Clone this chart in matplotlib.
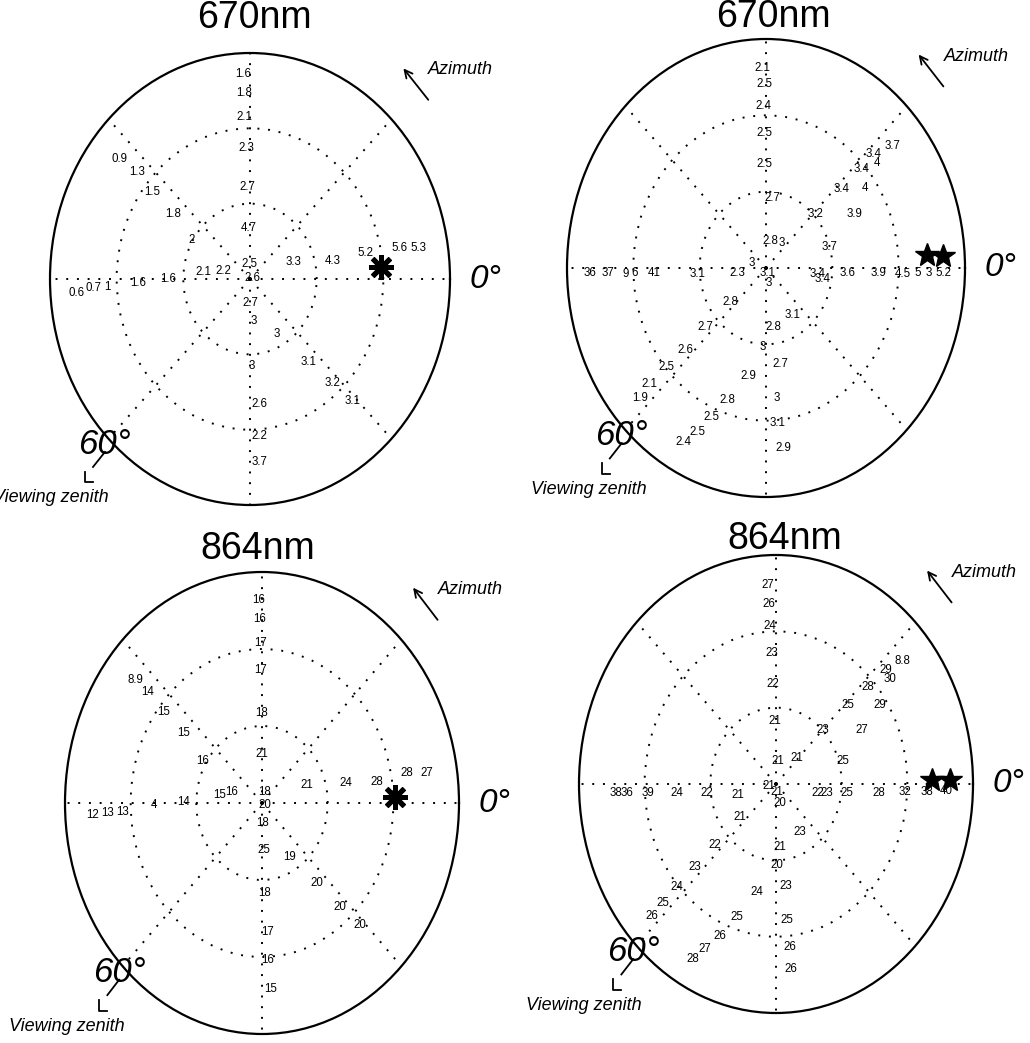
import numpy as np
import matplotlib
matplotlib.use("Agg")
import matplotlib.pyplot as plt

plt.rcParams['font.family'] = ['Liberation Sans', 'DejaVu Sans']

# -----------------------------
# Data: value labels at (azimuth deg, viewing zenith deg)
# -----------------------------
# 670nm, left panel
p1_val = ["1.6", "1.8", "2.1", "2.3", "2.7", "4.7", "2.5", "2.6",
          "2.7", "3", "3", "2.6", "2.2", "3.7",
          "2.1", "2.2", "1.6", "1.6", "1", "0.7", "0.6",
          "3.3", "4.3", "5.2", "5.6", "5.3",
          "0.9", "1.3", "1.5", "1.8", "2",
          "3", "3.1", "3.2", "3.1"]
p1_az = [92, 92, 92.4, 92, 92, 91, 94, 18,
         270, 275, 271, 275, 274, 273.5,
         172, 165.5, 180, 182, 183, 183, 184,
         19, 11, 11.3, 10.3, 9.2,
         140.7, 140, 141.8, 143.2, 149,
         299, 308.8, 312, 313.4]
p1_zen = [54.4, 49.4, 43.0, 34.8, 24.4, 13.5, 4.0, 0.9,
          6.4, 11.2, 23.1, 33.3, 41.8, 48.7,
          14.2, 8.4, 24.6, 33.6, 42.9, 47.1, 52.1,
          13.7, 25.4, 35.2, 45.7, 51.1,
          50.4, 44.2, 37.4, 28.9, 20.3,
          16.7, 28.2, 37.2, 44.6]

# 670nm, right panel
p2_val = ["2.1", "2.5", "2.4", "2.5", "2.5", "2.7", "2.8", "3", "3", "3.1", "3",
          "2.8", "3.1", "3", "2.7", "2.9", "3", "3.1", "2.9",
          "3.4", "3.4", "3.6", "3.9", "4.5", "5", "3", "5.2",
          "3.7", "3.2", "3.4", "3.4", "3.4", "3.7", "3.9", "4", "4",
          "2.3", "3.1", "41", "6", "9", "37", "36",
          "2.8", "2.7", "2.6", "2.5", "2.1", "1.9", "2.8", "2.5", "2.5", "2.4"]
p2_az = [91.3, 90.7, 91.2, 91, 91.3, 84.4, 80.5, 54.4, 161.6, 293, 283,
         277.7, 303, 267.5, 279.5, 259.2, 275.5, 275, 276.5,
         354, 350, 356.8, 357.6, 358, 358.2, 358.4, 358.5,
         15.6, 43.8, 42.2, 42, 42.8, 40.1, 27.9, 35.2, 39.5,
         189, 184, 182.4, 182, 182, 181.7, 181.5,
         219.5, 220.3, 221.5, 221, 221, 221.9, 251.6, 247.3, 244.2, 241.3]
p2_zen = [52.4, 48.2, 42.5, 35.4, 27.3, 18.5, 7.3, 8.2, 4.4, 1.5, 4.1,
          15.7, 14.8, 20.8, 25.4, 28.9, 34.3, 40.8, 47.5,
          15.6, 17.3, 24.7, 33.8, 41.3, 45.8, 49.1, 53.4,
          20.0, 20.5, 30.9, 38.9, 44.0, 49.7, 30.3, 36.5, 43.4,
          8.8, 20.8, 33.8, 39.5, 42.2, 47.6, 53.1,
          14.1, 24.1, 32.6, 39.6, 46.4, 51.1, 36.5, 42.3, 47.8, 52.0]

# 864nm, left panel
p3_val = ["16", "16", "17", "17", "18", "21", "18", "20",
          "18", "25", "18", "17", "16", "15",
          "15", "16", "14", "4", "13", "13", "12",
          "21", "24", "28", "28", "27",
          "8.9", "14", "15", "15", "16",
          "19", "20", "20", "20"]
p3_az = [91, 91, 90.8, 90.5, 90, 90, 73, 331,
         273, 273, 272, 273, 272.5, 273,
         170.7, 162.3, 179.3, 181, 183, 183, 183.4,
         19, 11.5, 9, 10, 8.8,
         140.3, 140.2, 141.8, 142.8, 148.7,
         301.3, 308.8, 311.3, 313.2]
p3_zen = [52.8, 47.8, 41.6, 34.6, 23.4, 12.7, 3.0, 1.0,
          5.2, 12.2, 23.4, 33.5, 40.8, 48.5,
          13.0, 9.6, 24.0, 32.8, 42.4, 47.2, 51.8,
          14.5, 26.0, 35.4, 44.8, 50.8,
          50.1, 45.2, 38.3, 30.1, 21.0,
          16.4, 26.7, 35.9, 43.5]

# 864nm, right panel
p4_val = ["27", "26", "24", "23", "22", "21", "21", "21", "21", "21", "20",
          "21", "20", "23", "25", "26", "26",
          "22", "23", "25", "28", "32", "38", "40",
          "21", "22", "24", "39", "36", "38",
          "23", "25", "28", "29", "8.8", "30", "29", "27", "25",
          "21", "22", "23", "24", "25", "26", "24", "25", "26", "27", "28",
          "23"]
p4_az = [92.6, 92.5, 92.5, 92, 92, 91, 84, 46.7, 193, 278, 283.5,
         274, 271, 276.4, 275.5, 275.8, 275.4,
         349.4, 351.2, 353.7, 355.6, 357, 357.4, 358,
         194, 186.5, 184.5, 183.5, 183, 182.8,
         44.6, 43.4, 42.2, 41.7, 40, 38.4, 33.1, 28.3, 16.4,
         218, 220.7, 221.3, 221.8, 222.2, 222.5, 258.4, 251.1, 246.7, 243.4, 241.1,
         300]
p4_zen = [52.2, 47.2, 41.4, 34.3, 26.2, 16.5, 6.0, 9.3, 2.2, 2.0, 5.1,
          16.5, 21.2, 26.9, 35.8, 42.9, 48.7,
          13.0, 15.7, 21.7, 31.5, 39.4, 46.0, 51.8,
          12.0, 21.1, 30.3, 39.1, 45.5, 48.8,
          20.1, 30.1, 37.8, 44.9, 50.1, 44.3, 37.9, 29.8, 21.3,
          14.0, 24.5, 32.9, 40.5, 46.4, 51.2, 28.9, 36.8, 43.3, 48.3, 52.4,
          14.6]

# sun markers (azimuth, zenith)
p1_sun_az, p1_sun_zen = [4.7], [39.4]
p2_sun_az, p2_sun_zen = [3.9, 3.5], [48.6, 53.5]
p3_sun_az, p3_sun_zen = [2.3], [40.4]
p4_sun_az, p4_sun_zen = [1.2, 1.1], [47.5, 53.0]

titles = ["670nm", "670nm", "864nm", "864nm"]

# -----------------------------
# Layout (pixel centre and half-axes of each ellipse)
# -----------------------------
W, H = 1030, 1043
geom = [(250, 279, 200, 226), (766, 268, 199, 229),
        (262, 803, 197, 231), (776, 784, 197, 229)]
title_pos = [(0.51, 1.077), (0.518, 1.048), (0.49, 1.05), (0.523, 1.035)]
vz_u = [-77, -71, -77, -76]

fig = plt.figure(figsize=(W / 100, H / 100), dpi=100)


def uv(u, v):
    # zenith-degree offsets -> axes fraction
    return 0.5 + u / 120.0, 0.5 + v / 120.0


panels = [(p1_val, p1_az, p1_zen, p1_sun_az, p1_sun_zen, "ast"),
          (p2_val, p2_az, p2_zen, p2_sun_az, p2_sun_zen, "star"),
          (p3_val, p3_az, p3_zen, p3_sun_az, p3_sun_zen, "ast"),
          (p4_val, p4_az, p4_zen, p4_sun_az, p4_sun_zen, "star")]

for i, (vals, az, zen, saz, szen, mk) in enumerate(panels):
    cx, cy, rx, ry = geom[i]
    rect = [(cx - rx) / W, 1 - (cy + ry) / H, 2 * rx / W, 2 * ry / H]
    ax = fig.add_axes(rect, projection="polar")
    ax.set_aspect("auto")
    ax.set_ylim(0, 60)
    ax.set_thetagrids(range(0, 360, 45), labels=[])
    ax.set_rgrids([20, 40], labels=[])
    ax.grid(True, color="black", linestyle=(0, (1, 4.5)), linewidth=1.4)
    ax.spines["polar"].set_linewidth(1.6)
    ax.set_facecolor("white")

    for s, a, z in zip(vals, az, zen):
        ax.text(np.deg2rad(a), z, s, ha="center", va="center",
                fontsize=8.3, color="black")

    if mk == "ast":
        ax.plot(np.deg2rad(saz), szen, linestyle="none", marker=(8, 2, 0),
                markersize=18, mew=3.6, color="black", clip_on=False)
        ax.plot(np.deg2rad(saz), szen, linestyle="none", marker="o",
                markersize=8, color="black", clip_on=False)
    else:
        ax.plot(np.deg2rad(saz), szen, linestyle="none", marker="*",
                markersize=18, color="black", clip_on=False)

    # title
    ax.text(title_pos[i][0], title_pos[i][1], titles[i], transform=ax.transAxes,
            ha="center", va="center", fontsize=27)

    # azimuth arrow + label
    ax.annotate("", xy=uv(45.5, 56.5), xytext=uv(54, 47),
                xycoords="axes fraction", textcoords="axes fraction",
                arrowprops=dict(arrowstyle="->", lw=1.3, color="black",
                                mutation_scale=14))
    ax.text(*uv(53.5, 55.5), "Azimuth", transform=ax.transAxes, ha="left",
            va="center", fontsize=13, style="italic")

    # 0 degree label
    ax.text(*uv(66, 0), "0°", transform=ax.transAxes, ha="left",
            va="center", fontsize=24, style="italic")

    # 60 degree / viewing zenith
    ax.text(*uv(-51.5, -44), "60°", transform=ax.transAxes, ha="left",
            va="center", fontsize=25, style="italic")
    lx, ly = zip(uv(-43.5, -45.9), uv(-47.1, -49.9))
    ax.plot(lx, ly, color="black", lw=1.3, transform=ax.transAxes, clip_on=False)
    lx, ly = zip(uv(-49.5, -51.2), uv(-49.5, -53.9), uv(-47.1, -53.9))
    ax.plot(lx, ly, color="black", lw=1.3, transform=ax.transAxes, clip_on=False)
    ax.text(*uv(vz_u[i], -58), "Viewing zenith", transform=ax.transAxes,
            ha="left", va="center", fontsize=13, style="italic")

plt.savefig("out.png", dpi=100)
